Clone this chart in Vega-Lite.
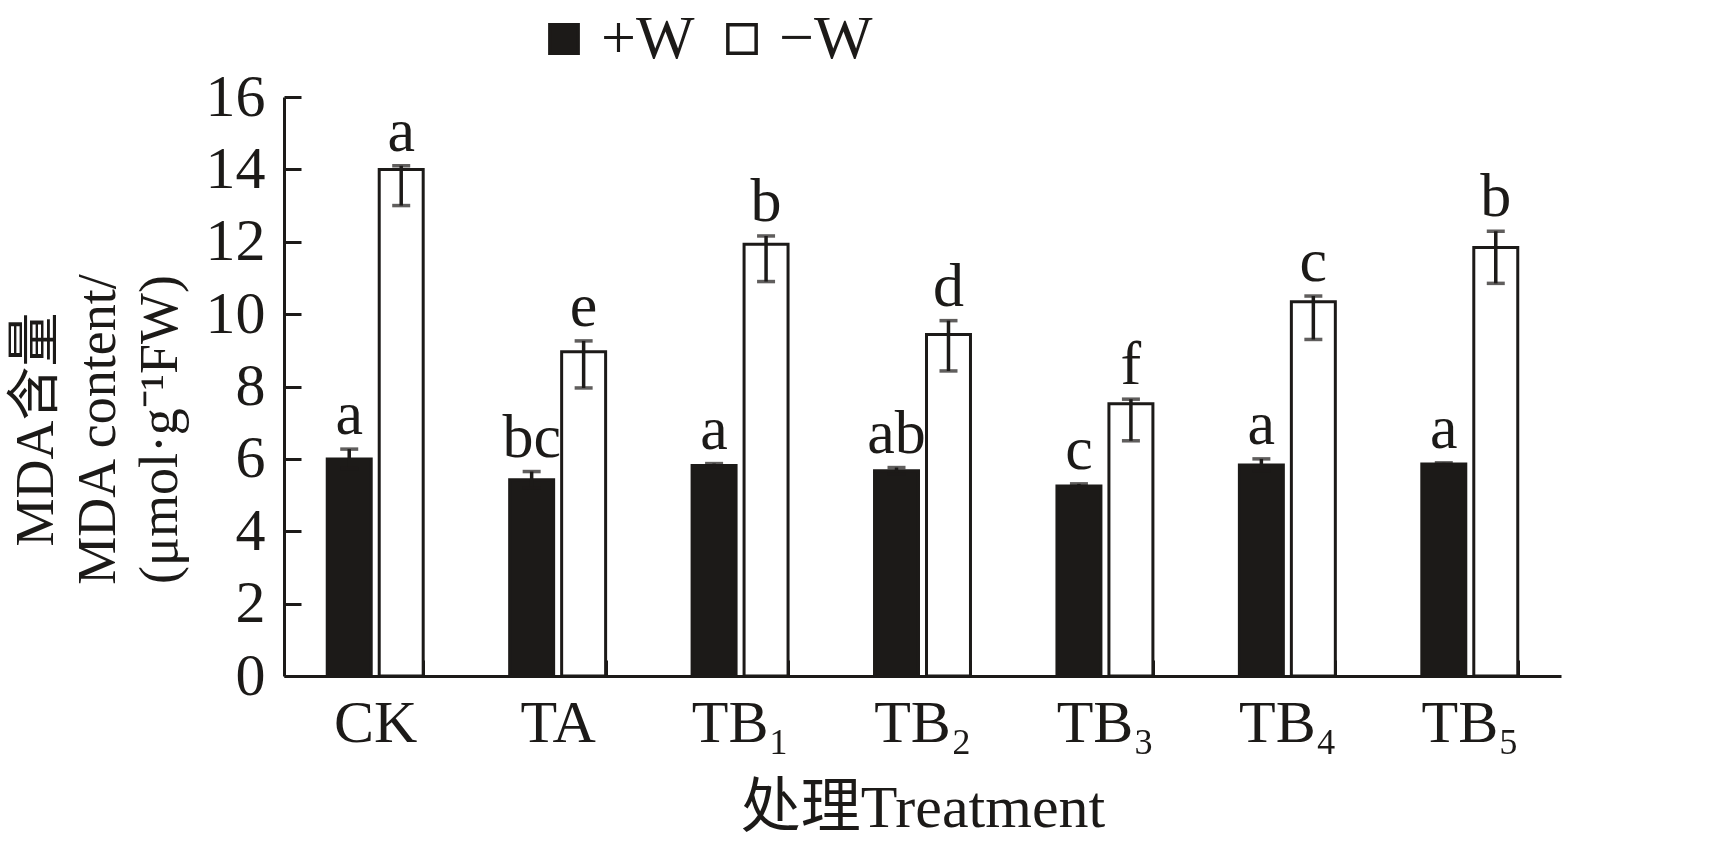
{
  "$schema": "https://vega.github.io/schema/vega-lite/v6.json",
  "width": 1277,
  "height": 579,
  "autosize": "none",
  "padding": {"left": 284, "top": 97, "right": 170, "bottom": 169},
  "background": "white",
  "data": {
    "values": [
      {"treatment": "CK", "water": "+W", "mda": 6.0, "lo": 5.73, "hi": 6.27, "sig": "a"},
      {"treatment": "CK", "water": "−W", "mda": 14.0, "lo": 13.0, "hi": 14.1, "sig": "a"},
      {"treatment": "TA", "water": "+W", "mda": 5.42, "lo": 5.19, "hi": 5.65, "sig": "bc"},
      {"treatment": "TA", "water": "−W", "mda": 8.96, "lo": 7.96, "hi": 9.26, "sig": "e"},
      {"treatment": "TB₁", "water": "+W", "mda": 5.82, "lo": 5.78, "hi": 5.87, "sig": "a"},
      {"treatment": "TB₁", "water": "−W", "mda": 11.93, "lo": 10.9, "hi": 12.16, "sig": "b"},
      {"treatment": "TB₂", "water": "+W", "mda": 5.67, "lo": 5.58, "hi": 5.76, "sig": "ab"},
      {"treatment": "TB₂", "water": "−W", "mda": 9.44, "lo": 8.43, "hi": 9.82, "sig": "d"},
      {"treatment": "TB₃", "water": "+W", "mda": 5.25, "lo": 5.19, "hi": 5.31, "sig": "c"},
      {"treatment": "TB₃", "water": "−W", "mda": 7.52, "lo": 6.5, "hi": 7.65, "sig": "f"},
      {"treatment": "TB₄", "water": "+W", "mda": 5.83, "lo": 5.66, "hi": 6.0, "sig": "a"},
      {"treatment": "TB₄", "water": "−W", "mda": 10.34, "lo": 9.3, "hi": 10.5, "sig": "c"},
      {"treatment": "TB₅", "water": "+W", "mda": 5.86, "lo": 5.83, "hi": 5.89, "sig": "a"},
      {"treatment": "TB₅", "water": "−W", "mda": 11.84, "lo": 10.85, "hi": 12.29, "sig": "b"}
    ]
  },
  "encoding": {
    "x": {
      "field": "treatment",
      "type": "nominal",
      "sort": null,
      "scale": {"paddingInner": 0.474, "paddingOuter": 0.237},
      "axis": {
        "title": "处理Treatment",
        "labelAngle": 0,
        "tickBand": "extent",
        "tickSize": -16,
        "labelPadding": 34,
        "titlePadding": 26,
        "titleFontSize": 60
      }
    },
    "xOffset": {
      "field": "water",
      "type": "nominal",
      "sort": ["+W", "−W"],
      "scale": {"paddingInner": 0.154, "paddingOuter": 0}
    }
  },
  "layer": [
    {
      "mark": {"type": "bar", "stroke": "#1c1a18", "strokeWidth": 3},
      "encoding": {
        "y": {
          "field": "mda",
          "type": "quantitative",
          "scale": {"domain": [0, 16], "nice": false},
          "axis": {
            "title": ["MDA含量", "MDA content/", "(μmol·g⁻¹FW)"],
            "values": [0, 2, 4, 6, 8, 10, 12, 14, 16],
            "tickSize": -17,
            "labelPadding": 36,
            "titlePadding": 18,
            "titleLineHeight": 62,
            "titleY": 332
          }
        },
        "fill": {
          "field": "water",
          "type": "nominal",
          "sort": ["+W", "−W"],
          "scale": {"domain": ["+W", "−W"], "range": ["#1c1a18", "#ffffff"]},
          "legend": {
            "title": null,
            "orient": "none",
            "direction": "horizontal",
            "legendX": 249,
            "legendY": -89,
            "symbolType": "square",
            "symbolSize": 800,
            "symbolStrokeColor": "#1c1a18",
            "symbolStrokeWidth": 3.5,
            "labelFontSize": 62,
            "labelOffset": 6,
            "columnPadding": 16
          }
        }
      }
    },
    {
      "mark": {"type": "rule", "color": "#1c1a18", "strokeWidth": 3.5},
      "encoding": {
        "y": {"field": "lo", "type": "quantitative"},
        "y2": {"field": "hi"}
      }
    },
    {
      "mark": {"type": "tick", "color": "#1c1a18", "size": 18, "thickness": 3.5},
      "encoding": {"y": {"field": "hi", "type": "quantitative"}}
    },
    {
      "mark": {"type": "tick", "color": "#1c1a18", "size": 18, "thickness": 3.5},
      "encoding": {"y": {"field": "lo", "type": "quantitative"}}
    },
    {
      "mark": {"type": "text", "baseline": "alphabetic", "dy": -15, "fontSize": 62, "font": "Liberation Serif", "color": "#1c1a18"},
      "encoding": {
        "y": {"field": "hi", "type": "quantitative"},
        "text": {"field": "sig"}
      }
    }
  ],
  "config": {
    "font": "Liberation Serif, Noto Sans CJK SC",
    "view": {"stroke": null},
    "axis": {
      "grid": false,
      "domainColor": "#1c1a18",
      "domainWidth": 3,
      "tickColor": "#1c1a18",
      "tickWidth": 3,
      "labelFont": "Liberation Serif, Noto Sans CJK SC",
      "labelFontSize": 60,
      "labelColor": "#1c1a18",
      "titleFont": "Liberation Serif, Noto Sans CJK SC",
      "titleFontSize": 54,
      "titleFontWeight": "normal",
      "titleColor": "#1c1a18"
    },
    "legend": {
      "labelFont": "Liberation Serif, Noto Sans CJK SC",
      "labelColor": "#1c1a18"
    }
  }
}
